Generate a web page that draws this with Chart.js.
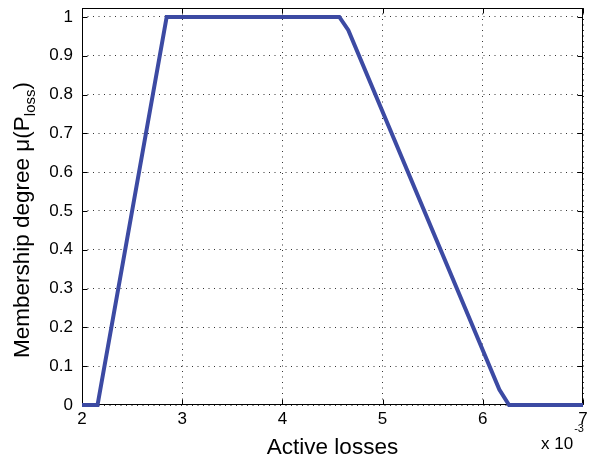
<!DOCTYPE html>
<html><head><meta charset="utf-8">
<script src="https://cdn.jsdelivr.net/npm/chart.js@4"></script>
<style>html,body{margin:0;padding:0;background:#fff}#wrap{width:591px;height:461px}</style>
</head><body><div id="wrap"><canvas id="c" width="591" height="461"></canvas></div>
<script>
// ---- data ----
const xValues = [2, 2.155, 2.845, 4.568, 4.658, 6.165, 6.262, 7];
const yValues = [0, 0, 1, 1, 0.966, 0.04, 0, 0];
const xTicks = [2, 3, 4, 5, 6, 7];
const yTicks = [0, 0.1, 0.2, 0.3, 0.4, 0.5, 0.6, 0.7, 0.8, 0.9, 1];
const xTitle = 'Active losses';
const yTitleMain = 'Membership degree \u03BC(P';
const yTitleSub = 'loss';
const yTitleEnd = ')';
const xExponentBase = 'x 10';
const xExponentPow = '-3';

const FONT = '"Liberation Sans", Arial, Helvetica, sans-serif';

const boxPlugin = {
  id: 'matlabBox',
  beforeDatasetsDraw(chart) {
    const {ctx, chartArea: a, scales} = chart;
    ctx.save();
    ctx.strokeStyle = '#000';
    ctx.lineWidth = 1;
    const L = Math.round(a.left) + 0.5, R = Math.round(a.right) - 0.5;
    const T = Math.round(a.top) + 0.5, B = Math.round(a.bottom) - 0.5;
    ctx.strokeRect(L, T, R - L, B - T);
    const tl = 5;
    ctx.beginPath();
    xTicks.forEach(v => {
      const x = Math.round(scales.x.getPixelForValue(v)) + 0.5;
      ctx.moveTo(x, B); ctx.lineTo(x, B - tl);
      ctx.moveTo(x, T); ctx.lineTo(x, T + tl);
    });
    yTicks.forEach(v => {
      const y = Math.round(scales.y.getPixelForValue(v)) + 0.5;
      ctx.moveTo(L, y); ctx.lineTo(L + tl, y);
      ctx.moveTo(R, y); ctx.lineTo(R - tl, y);
    });
    ctx.stroke();
    ctx.restore();
  },
  afterDraw(chart) {
    const {ctx} = chart;
    ctx.save();
    ctx.fillStyle = '#000';
    // y title (rotated) with subscript
    ctx.translate(29, 358);
    ctx.rotate(-Math.PI / 2);
    ctx.textBaseline = 'alphabetic';
    ctx.textAlign = 'left';
    ctx.font = '22.5px ' + FONT;
    ctx.fillText(yTitleMain, 0, 0);
    let w = ctx.measureText(yTitleMain).width;
    ctx.font = '15px ' + FONT;
    ctx.fillText(yTitleSub, w, 6);
    w += ctx.measureText(yTitleSub).width;
    ctx.font = '22.5px ' + FONT;
    ctx.fillText(yTitleEnd, w, 0);
    ctx.restore();
    // exponent label
    ctx.save();
    ctx.fillStyle = '#000';
    ctx.textBaseline = 'alphabetic';
    ctx.font = '17px ' + FONT;
    ctx.fillText(xExponentBase, 541, 449);
    const bw = ctx.measureText(xExponentBase).width;
    ctx.font = '11px ' + FONT;
    ctx.fillText(xExponentPow, 541 + bw + 1, 432);
    ctx.restore();
  }
};

new Chart(document.getElementById('c'), {
  type: 'scatter',
  data: {
    datasets: [{
      data: xValues.map((x, i) => ({x: x, y: yValues[i]})),
      showLine: true,
      borderColor: '#3C4AA3',
      borderWidth: 4,
      pointRadius: 0,
      pointHoverRadius: 0,
      tension: 0,
      clip: false
    }]
  },
  options: {
    responsive: false,
    devicePixelRatio: 1,
    animation: false,
    events: [],
    layout: {padding: {left: 0, top: 8, right: 8, bottom: 0}},
    plugins: {legend: {display: false}, tooltip: {enabled: false}},
    scales: {
      x: {
        type: 'linear', min: 2, max: 7,
        afterBuildTicks: s => { s.ticks = xTicks.map(v => ({value: v})); },
        afterFit: s => { s.height = 56; s.paddingLeft = 0; s.paddingRight = 0; },
        ticks: {font: {size: 17, family: FONT}, color: '#000', padding: 4, maxRotation: 0,
          callback: v => String(v)},
        grid: {color: '#333', lineWidth: 1, drawTicks: false},
        border: {display: false, dash: [1, 4.5]},
        title: {display: true, text: xTitle, color: '#000', font: {size: 22.5, family: FONT}, padding: {top: 0, bottom: 0}}
      },
      y: {
        type: 'linear', min: 0, max: 1.023,
        afterBuildTicks: s => { s.ticks = yTicks.map(v => ({value: v})); },
        afterFit: s => { s.width = 82; s.paddingTop = 0; s.paddingBottom = 0; },
        ticks: {font: {size: 17, family: FONT}, color: '#000', padding: 9,
          callback: v => (v === 0 || v === 1) ? String(v) : Number(v).toFixed(1)},
        grid: {color: '#333', lineWidth: 1, drawTicks: false},
        border: {display: false, dash: [1, 4.5]}
      }
    }
  },
  plugins: [boxPlugin]
});
</script></body></html>
